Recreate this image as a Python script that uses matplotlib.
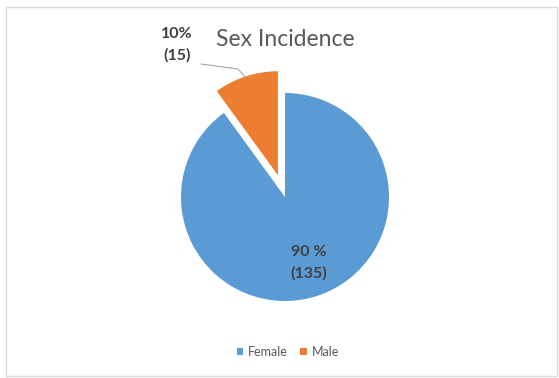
import matplotlib
matplotlib.use("Agg")
import matplotlib.pyplot as plt
from matplotlib.patches import Rectangle

# data
labels = ["Female", "Male"]
counts = [135, 15]
percents = ["90 %", "10%"]
colors = ["#5B9BD5", "#ED7D31"]

plt.rcParams['font.family'] = ['Lato', 'DejaVu Sans']

W, H = 559, 378
R = 104
fig = plt.figure(figsize=(W / 100, H / 100), dpi=100)
ax = fig.add_axes([0, 0, 1, 1])

# explode is in data units here (axes are in pixels)
wedges, _ = ax.pie(counts, colors=colors, explode=[0, 0.22 * R], startangle=90,
                   counterclock=False, center=(285, H - 197), radius=R,
                   wedgeprops=dict(linewidth=0))
ax.set_xlim(0, W)
ax.set_ylim(0, H)
ax.set_aspect('auto')
ax.axis('off')

# chart border
fig.patches.append(Rectangle((6, 2), 551, 369, transform=None, fill=False,
                             edgecolor="#d9d9d9", linewidth=1))

ax.text(285, H - 40, "Sex Incidence", ha='center', va='center',
        fontsize=16.5, color="#595959")

# data labels
ax.text(309, H - 263, f"{percents[0]}\n({counts[0]})", ha='center', va='center',
        fontsize=11.5, fontweight='bold', color="#404040", linespacing=1.6)
ax.text(177, H - 45, f"{percents[1]}\n({counts[1]})", ha='center', va='center',
        fontsize=11.5, fontweight='bold', color="#404040", linespacing=1.6)
ax.plot([201, 238, 246], [H - 64, H - 69, H - 78], color="#a6a6a6", linewidth=0.8)

leg = fig.legend(wedges, labels, loc='center', bbox_to_anchor=(0.515, 1 - 352 / H),
                 ncol=2, frameon=False, fontsize=9, handlelength=0.5,
                 handleheight=0.5, handletextpad=0.4, columnspacing=1.0)
for t in leg.get_texts():
    t.set_color("#595959")

fig.savefig("out.png", dpi=100)
